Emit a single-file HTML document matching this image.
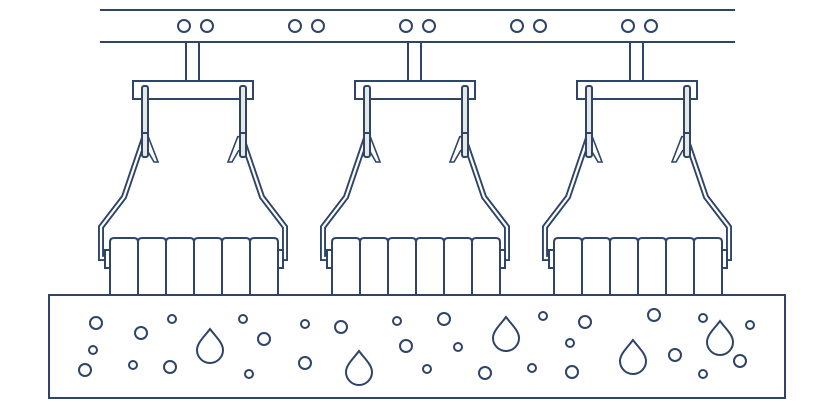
<!DOCTYPE html>
<html><head><style>html,body{margin:0;padding:0;background:#fff}svg{display:block}</style></head>
<body>
<svg width="834" height="402" viewBox="0 0 834 402" xmlns="http://www.w3.org/2000/svg">
<defs>
<g id="unit" fill="none" stroke="#2e4469" stroke-width="2">
  <rect x="186" y="42" width="13" height="39" fill="#fff"/>
  <rect x="133" y="81" width="120" height="18" fill="#fff"/>
  <!-- arms -->
  <path d="M145,135 L124,197 L101,227 L101,258 L107,258" stroke-width="6" stroke-linejoin="miter"/>
  <path d="M145,135 L124,197 L101,227 L101,258 L107,258" stroke="#fff" stroke-width="2.2" stroke-linejoin="miter"/>
  <path d="M241,135 L262,197 L285,227 L285,258 L279,258" stroke-width="6" stroke-linejoin="miter"/>
  <path d="M241,135 L262,197 L285,227 L285,258 L279,258" stroke="#fff" stroke-width="2.2" stroke-linejoin="miter"/>
  <path d="M148,136 L158,162 L154,162 L147,150" fill="#fff" stroke-width="1.6"/>
  <path d="M238,136 L228,162 L232,162 L239,150" fill="#fff" stroke-width="1.6"/>
  <rect x="142" y="86" width="6" height="71" rx="2" fill="#e6e9e2"/>
  <rect x="240" y="86" width="6" height="71" rx="2" fill="#e6e9e2"/>
  <line x1="142" y1="133" x2="148" y2="133"/>
  <line x1="240" y1="133" x2="246" y2="133"/>
  <!-- caps -->
  <rect x="105" y="250" width="6" height="18" fill="#fff"/>
  <rect x="277" y="250" width="6" height="18" fill="#fff"/>
  <!-- rollers -->
  <path d="M110,296 V242 Q110,238 114,238 H134 Q138,238 138,242 V296" fill="#fff"/>
  <path d="M138,296 V242 Q138,238 142,238 H162 Q166,238 166,242 V296" fill="#fff"/>
  <path d="M166,296 V242 Q166,238 170,238 H190 Q194,238 194,242 V296" fill="#fff"/>
  <path d="M194,296 V242 Q194,238 198,238 H218 Q222,238 222,242 V296" fill="#fff"/>
  <path d="M222,296 V242 Q222,238 226,238 H246 Q250,238 250,242 V296" fill="#fff"/>
  <path d="M250,296 V242 Q250,238 254,238 H274 Q278,238 278,242 V296" fill="#fff"/>
</g>
<path id="drop" d="M0,-17 C6,-9 13,-3 13,4 A13,13 0 0 1 -13,4 C-13,-3 -6,-9 0,-17 Z"/>
</defs>
<g stroke="#2e4469" stroke-width="2" fill="none">
  <line x1="100" y1="10" x2="735" y2="10"/>
  <line x1="100" y1="42" x2="735" y2="42"/>
  <circle cx="184" cy="26" r="6"/><circle cx="207" cy="26" r="6"/>
  <circle cx="295" cy="26" r="6"/><circle cx="318" cy="26" r="6"/>
  <circle cx="406" cy="26" r="6"/><circle cx="429" cy="26" r="6"/>
  <circle cx="517" cy="26" r="6"/><circle cx="540" cy="26" r="6"/>
  <circle cx="628" cy="26" r="6"/><circle cx="651" cy="26" r="6"/>
</g>
<use href="#unit"/>
<use href="#unit" transform="translate(222,0)"/>
<use href="#unit" transform="translate(444,0)"/>
<g stroke="#2e4469" stroke-width="2" fill="none">
  <rect x="49" y="295" width="736" height="103" fill="#fff"/>
  <circle cx="96" cy="323" r="6"/><circle cx="141" cy="333" r="6"/><circle cx="172" cy="319" r="4"/>
  <circle cx="93" cy="350" r="4"/><circle cx="85" cy="370" r="6"/><circle cx="133" cy="365" r="4"/>
  <circle cx="170" cy="367" r="6"/><circle cx="243" cy="319" r="4"/><circle cx="264" cy="339" r="6"/>
  <circle cx="249" cy="374" r="4"/><circle cx="305" cy="324" r="4"/><circle cx="341" cy="327" r="6"/>
  <circle cx="305" cy="363" r="6"/><circle cx="397" cy="321" r="4"/><circle cx="406" cy="346" r="6"/>
  <circle cx="427" cy="369" r="4"/><circle cx="444" cy="319" r="6"/><circle cx="458" cy="347" r="4"/>
  <circle cx="543" cy="316" r="4"/><circle cx="585" cy="322" r="6"/><circle cx="570" cy="343" r="4"/>
  <circle cx="485" cy="373" r="6"/><circle cx="532" cy="368" r="4"/><circle cx="572" cy="372" r="6"/>
  <circle cx="654" cy="315" r="6"/><circle cx="675" cy="355" r="6"/><circle cx="703" cy="318" r="4"/>
  <circle cx="750" cy="325" r="4"/><circle cx="740" cy="361" r="6"/><circle cx="703" cy="374" r="4"/>
  <use href="#drop" transform="translate(210,346)"/>
  <use href="#drop" transform="translate(359,368)"/>
  <use href="#drop" transform="translate(506,334)"/>
  <use href="#drop" transform="translate(633,357)"/>
  <use href="#drop" transform="translate(720,338)"/>
</g>
</svg>
</body></html>
